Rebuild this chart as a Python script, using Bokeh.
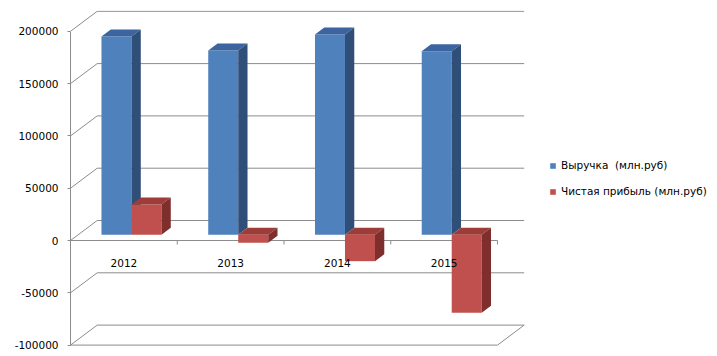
from bokeh.plotting import figure
from bokeh.models import Range1d, FixedTicker, Legend, LegendItem
from bokeh.embed import file_html
from bokeh.resources import INLINE
from bokeh.core.properties import value

# ---- data ----
categories = ["2012", "2013", "2014", "2015"]
revenue = [189600, 176200, 191500, 175500]
profit = [29000, -7600, -25200, -74600]
series_names = ["Выручка  (млн.руб)", "Чистая прибыль (млн.руб)"]
y_ticks = [-100000, -50000, 0, 50000, 100000, 150000, 200000]
y_tick_labels = ["-100000", "-50000", "0", "50000", "100000", "150000", "200000"]

# ---- geometry (pixels) ----
PX_X = 106.75            # px per category
PX_Y = 52.3 / 50000      # px per value unit
FRAME_W, FRAME_H = 638, 340
ZERO_TOP = 230           # px from frame top to zero line

def ux(px):
    return px / PX_X

def uy(px):
    return px / PX_Y

WALL_DX, WALL_DY = ux(26.7), uy(20)
BAR_SX, BAR_SY = ux(7.6), uy(5.7)
BAR_DX, BAR_DY = ux(9.3), uy(7)
BAR_W = ux(30)

FONT = value("DejaVu Sans")
GRID = "#8c8c8c"

p = figure(width=708, height=350, output_backend="svg", toolbar_location=None,
           x_range=Range1d(0, ux(FRAME_W)),
           y_range=Range1d(-uy(FRAME_H - ZERO_TOP), uy(ZERO_TOP)),
           x_axis_location=None,
           min_border_left=70, min_border_right=0, min_border_top=10, min_border_bottom=0)
p.outline_line_color = None
p.xgrid.visible = False
p.ygrid.visible = False

n = len(categories)
ymin, ymax = min(y_ticks), max(y_ticks)

# left wall diagonals and back wall gridlines
p.segment(x0=[0] * len(y_ticks), y0=y_ticks,
          x1=[WALL_DX] * len(y_ticks), y1=[t + WALL_DY for t in y_ticks],
          line_color=GRID, line_width=1)
p.segment(x0=[WALL_DX] * len(y_ticks), y0=[t + WALL_DY for t in y_ticks],
          x1=[n + WALL_DX] * len(y_ticks), y1=[t + WALL_DY for t in y_ticks],
          line_color=GRID, line_width=1)
# floor front edge and right diagonal
p.segment(x0=[0, n], y0=[ymin, ymin], x1=[n, n + WALL_DX], y1=[ymin, ymin + WALL_DY],
          line_color=GRID, line_width=1)
# category axis at zero with ticks at boundaries
p.segment(x0=[0], y0=[0], x1=[n], y1=[0], line_color=GRID, line_width=1)
p.segment(x0=list(range(1, n + 1)), y0=[0] * n, x1=list(range(1, n + 1)), y1=[-uy(4)] * n,
          line_color=GRID, line_width=1)

centers = [i + 0.5 for i in range(n)]

def draw_series(vals, offset, front, top_c, side_c):
    L = [c + BAR_SX + offset for c in centers]
    R = [l + BAR_W for l in L]
    lo = [BAR_SY + min(v, 0) for v in vals]
    hi = [BAR_SY + max(v, 0) for v in vals]
    r = p.quad(left=L, right=R, bottom=lo, top=hi, fill_color=front, line_color=None)
    top_xs = [[l, rr, rr + BAR_DX, l + BAR_DX] for l, rr in zip(L, R)]
    top_ys = [[h, h, h + BAR_DY, h + BAR_DY] for h in hi]
    p.patches(top_xs, top_ys, fill_color=top_c, line_color=None)
    side_xs = [[rr, rr, rr + BAR_DX, rr + BAR_DX] for rr in R]
    side_ys = [[a, b, b + BAR_DY, a + BAR_DY] for a, b in zip(lo, hi)]
    p.patches(side_xs, side_ys, fill_color=side_c, line_color=None)
    return r

r_rev = draw_series(revenue, -BAR_W, "#4F81BD", "#3B64A0", "#2F4E78")
r_pro = draw_series(profit, 0, "#C0504D", "#9E3C39", "#7E2E2C")

# category labels drawn on top of bars
p.text(x=centers, y=[0] * n, text=categories, text_align="center", text_baseline="middle",
       y_offset=22, text_font=FONT, text_font_size="10.5px", text_color="#000000")

# y axis
yax = p.yaxis[0]
yax.ticker = FixedTicker(ticks=y_ticks)
yax.major_label_overrides = {t: s for t, s in zip(y_ticks, y_tick_labels)}
yax.bounds = (ymin, ymax)
yax.axis_line_color = GRID
yax.major_tick_line_color = GRID
yax.major_tick_out = 3
yax.major_tick_in = 0
yax.minor_tick_line_color = None
yax.major_label_standoff = 9
yax.major_label_text_font = "DejaVu Sans"
yax.major_label_text_font_size = "10.5px"
yax.major_label_text_color = "#000000"

legend = Legend(items=[LegendItem(label=series_names[0], renderers=[r_rev]),
                       LegendItem(label=series_names[1], renderers=[r_pro])],
                location=(479, 152), orientation="vertical",
                border_line_color=None, background_fill_alpha=0,
                padding=0, margin=0, glyph_width=7, glyph_height=7,
                label_standoff=5, label_height=14, spacing=12,
                label_text_font="DejaVu Sans", label_text_font_size="10.5px",
                label_text_color="#000000")
p.add_layout(legend)

open("out.html", "w").write(file_html(p, INLINE))
